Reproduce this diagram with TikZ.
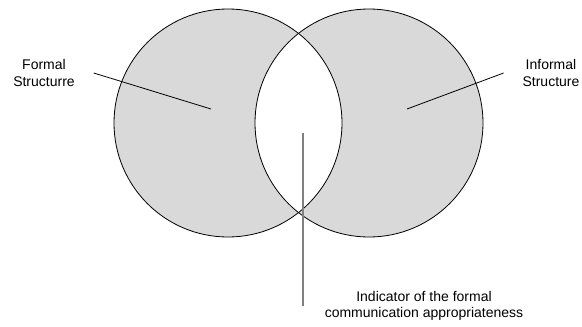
\documentclass[tikz,border=0pt]{standalone}
\usepackage{fontspec}
\setmainfont{Liberation Sans}
\usetikzlibrary{positioning, calc}
\definecolor{venngray}{HTML}{D9D9D9}
\definecolor{pointgray}{HTML}{808080}

\begin{document}
\begin{tikzpicture}[
      x=1pt, y=-1pt,
      every node/.style={font=\fontsize{14}{16.5}\selectfont},
      ring/.style={draw, circle, minimum size=228pt, inner sep=0pt, line width=0.8pt},
      lbl/.style={align=center, inner sep=3pt, outer xsep=16pt},
      pointer/.style={line width=0.8pt},
    ]
    \useasboundingbox (0,0) rectangle (582,327);
    % Shaded parts (lens stays white)
    \fill[venngray, even odd rule] (228,123) circle (114pt) (369,123) circle (114pt);
    \node[ring] (formal) at (228,123) {};
    \node[ring] (informal) at (369,123) {};

    % Labels
    \node[lbl] (formaltxt) at (44,73) {Formal\\Structurre};
    \node[lbl] (informaltxt) at (551,73) {Informal\\Structure};
    \node[lbl] (indtxt) at (424,306) {Indicator of the formal\\communication appropriateness};

    % Pointer ends
    \coordinate (fpt) at (211,109);
    \coordinate (ipt) at (407,109);
    \coordinate (lpt) at (303,133);

    % Pointers
    \draw[pointer] (formaltxt.east) -- (fpt);
    \draw[pointer] (informaltxt.west) -- (ipt);
    \draw[pointer, pointgray, line width=1.3pt] (lpt) -- (lpt |- indtxt.west);
  \end{tikzpicture}
\end{document}
